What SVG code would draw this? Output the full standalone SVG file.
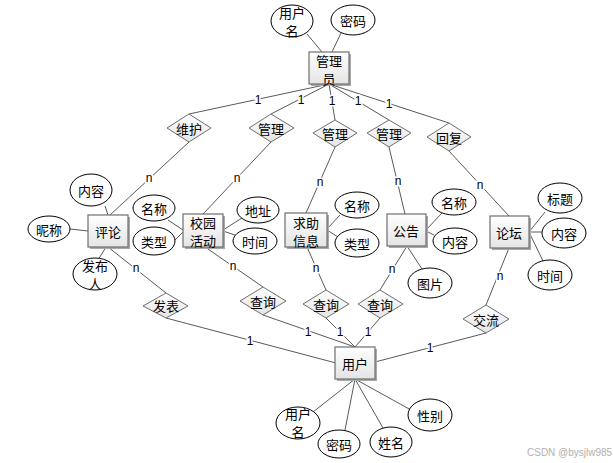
<svg xmlns="http://www.w3.org/2000/svg" width="613" height="463" viewBox="0 0 613 463">
<defs>
<linearGradient id="g" x1="0" y1="0" x2="0" y2="1">
<stop offset="0" stop-color="#ffffff"/><stop offset="1" stop-color="#e4e4e4"/>
</linearGradient>
<style>
text{font-family:"Noto Sans CJK SC","Liberation Sans",sans-serif;font-size:13px;fill:#000;text-anchor:middle;dominant-baseline:central}
.ent rect.b{fill:url(#g);stroke:#6e6e6e;stroke-width:1.2}
.ent rect.s{fill:#a8a8a8}
.rel polygon{fill:url(#g);stroke:#6e6e6e;stroke-width:1}
.att ellipse{fill:#fff;stroke:#000;stroke-width:1}
#connectors line{stroke:#5a5a5a;stroke-width:1}
.lbl{font-family:"Liberation Sans",sans-serif;font-size:12px;stroke:#fff;stroke-width:3;paint-order:stroke}
.wm{font-family:"Liberation Sans",sans-serif;font-size:10px;fill:#b0b0b0;text-anchor:start}
</style>
</defs>
<rect width="613" height="463" fill="#fff"/>
<g id="connectors">
<line x1="307" y1="34" x2="322" y2="52"/>
<line x1="341" y1="33" x2="332" y2="52"/>
<line x1="329" y1="84" x2="189" y2="114"/>
<line x1="329" y1="84" x2="271" y2="114"/>
<line x1="329" y1="84" x2="335" y2="120"/>
<line x1="329" y1="84" x2="389" y2="120"/>
<line x1="329" y1="84" x2="449" y2="123"/>
<line x1="189" y1="142" x2="110" y2="215"/>
<line x1="271" y1="142" x2="203" y2="214"/>
<line x1="335" y1="147" x2="306" y2="213"/>
<line x1="389" y1="147" x2="405" y2="214"/>
<line x1="449" y1="151" x2="509" y2="216"/>
<line x1="105" y1="206" x2="108" y2="215"/>
<line x1="70" y1="229" x2="88" y2="231"/>
<line x1="98" y1="260" x2="106" y2="247"/>
<line x1="108" y1="247" x2="166" y2="293"/>
<line x1="168" y1="220" x2="183" y2="230"/>
<line x1="173" y1="242" x2="183" y2="232"/>
<line x1="223" y1="230" x2="242" y2="218"/>
<line x1="223" y1="231" x2="235" y2="235"/>
<line x1="327" y1="229" x2="340" y2="215"/>
<line x1="327" y1="230" x2="338" y2="237"/>
<line x1="426" y1="230" x2="442" y2="213"/>
<line x1="426" y1="231" x2="434" y2="235"/>
<line x1="407" y1="246" x2="422" y2="269"/>
<line x1="529" y1="232" x2="545" y2="212"/>
<line x1="529" y1="232" x2="542" y2="232"/>
<line x1="529" y1="232" x2="543" y2="261"/>
<line x1="205" y1="247" x2="263" y2="287"/>
<line x1="307" y1="247" x2="326" y2="290"/>
<line x1="407" y1="246" x2="380" y2="290"/>
<line x1="509" y1="248" x2="486" y2="305"/>
<line x1="166" y1="318" x2="336" y2="363"/>
<line x1="263" y1="315" x2="355" y2="347"/>
<line x1="326" y1="318" x2="355" y2="347"/>
<line x1="380" y1="318" x2="355" y2="347"/>
<line x1="486" y1="333" x2="375" y2="362"/>
<line x1="355" y1="379" x2="313" y2="412"/>
<line x1="355" y1="379" x2="345" y2="430"/>
<line x1="355" y1="379" x2="383" y2="428"/>
<line x1="355" y1="379" x2="411" y2="410"/>
<text class="lbl" x="258" y="100">1</text>
<text class="lbl" x="301" y="100">1</text>
<text class="lbl" x="332" y="101">1</text>
<text class="lbl" x="358" y="101">1</text>
<text class="lbl" x="389" y="104">1</text>
<text class="lbl" x="149" y="178">n</text>
<text class="lbl" x="237" y="178">n</text>
<text class="lbl" x="320" y="182">n</text>
<text class="lbl" x="398" y="181">n</text>
<text class="lbl" x="480" y="185">n</text>
<text class="lbl" x="136" y="268">n</text>
<text class="lbl" x="233" y="266">n</text>
<text class="lbl" x="316" y="268">n</text>
<text class="lbl" x="392" y="269">n</text>
<text class="lbl" x="500" y="276">n</text>
<text class="lbl" x="250" y="341">1</text>
<text class="lbl" x="308" y="332">1</text>
<text class="lbl" x="340" y="332">1</text>
<text class="lbl" x="368" y="332">1</text>
<text class="lbl" x="430" y="348">1</text>
</g>
<g id="admin" class="ent"><rect class="s" x="311" y="54" width="40" height="32"/><rect class="b" x="309" y="52" width="40" height="32"/><text x="329" y="60">管理<tspan x="329" dy="18">员</tspan></text></g>
<g id="comment" class="ent"><rect class="s" x="90" y="217" width="40" height="32"/><rect class="b" x="88" y="215" width="40" height="32"/><text x="108" y="231">评论</text></g>
<g id="activity" class="ent"><rect class="s" x="185" y="216" width="40" height="33"/><rect class="b" x="183" y="214" width="40" height="33"/><text x="203" y="222">校园<tspan x="203" dy="18">活动</tspan></text></g>
<g id="help" class="ent"><rect class="s" x="287" y="215" width="42" height="34"/><rect class="b" x="285" y="213" width="42" height="34"/><text x="306" y="222">求助<tspan x="306" dy="18">信息</tspan></text></g>
<g id="notice" class="ent"><rect class="s" x="389" y="216" width="39" height="32"/><rect class="b" x="387" y="214" width="39" height="32"/><text x="406" y="230">公告</text></g>
<g id="forum" class="ent"><rect class="s" x="492" y="218" width="39" height="32"/><rect class="b" x="490" y="216" width="39" height="32"/><text x="509" y="232">论坛</text></g>
<g id="user" class="ent"><rect class="s" x="337" y="349" width="40" height="32"/><rect class="b" x="335" y="347" width="40" height="32"/><text x="355" y="363">用户</text></g>
<g id="r_weihu" class="rel"><polygon points="189,114 211,128 189,142 167,128"/><text x="189" y="128">维护</text></g>
<g id="r_guanli1" class="rel"><polygon points="271,114 294,128 271,142 249,128"/><text x="271" y="128">管理</text></g>
<g id="r_guanli2" class="rel"><polygon points="335,120 357,133 335,147 313,133"/><text x="335" y="133">管理</text></g>
<g id="r_guanli3" class="rel"><polygon points="389,120 411,133 389,147 367,133"/><text x="389" y="133">管理</text></g>
<g id="r_huifu" class="rel"><polygon points="449,123 471,137 449,151 427,137"/><text x="449" y="137">回复</text></g>
<g id="r_fabiao" class="rel"><polygon points="166,293 188,306 166,318 143,306"/><text x="166" y="305">发表</text></g>
<g id="r_chaxun1" class="rel"><polygon points="263,287 286,301 263,315 240,301"/><text x="263" y="301">查询</text></g>
<g id="r_chaxun2" class="rel"><polygon points="326,290 349,304 326,318 303,304"/><text x="326" y="304">查询</text></g>
<g id="r_chaxun3" class="rel"><polygon points="380,290 403,304 380,318 358,304"/><text x="380" y="304">查询</text></g>
<g id="r_jiaoliu" class="rel"><polygon points="486,305 509,319 486,333 463,319"/><text x="486" y="319">交流</text></g>
<g id="a_admin_name" class="att"><ellipse cx="292" cy="21" rx="21" ry="16"/><text x="292" y="12">用户<tspan x="292" dy="18">名</tspan></text></g>
<g id="a_admin_pwd" class="att"><ellipse cx="353" cy="20" rx="22" ry="15"/><text x="353" y="20">密码</text></g>
<g id="a_c_content" class="att"><ellipse cx="91" cy="190" rx="21" ry="16"/><text x="91" y="190">内容</text></g>
<g id="a_c_nick" class="att"><ellipse cx="49" cy="229" rx="21" ry="13"/><text x="49" y="229">昵称</text></g>
<g id="a_c_author" class="att"><ellipse cx="95" cy="274" rx="22" ry="16"/><text x="95" y="265">发布<tspan x="95" dy="18">人</tspan></text></g>
<g id="a_act_name" class="att"><ellipse cx="154" cy="208" rx="21" ry="13"/><text x="154" y="208">名称</text></g>
<g id="a_act_type" class="att"><ellipse cx="154" cy="241" rx="21" ry="14"/><text x="154" y="241">类型</text></g>
<g id="a_act_addr" class="att"><ellipse cx="258" cy="210" rx="21" ry="13"/><text x="258" y="210">地址</text></g>
<g id="a_act_time" class="att"><ellipse cx="255" cy="241" rx="22" ry="13"/><text x="255" y="241">时间</text></g>
<g id="a_help_name" class="att"><ellipse cx="357" cy="205" rx="22" ry="13"/><text x="357" y="205">名称</text></g>
<g id="a_help_type" class="att"><ellipse cx="357" cy="243" rx="22" ry="14"/><text x="357" y="243">类型</text></g>
<g id="a_n_name" class="att"><ellipse cx="454" cy="202" rx="22" ry="13"/><text x="454" y="202">名称</text></g>
<g id="a_n_content" class="att"><ellipse cx="455" cy="241" rx="22" ry="13"/><text x="455" y="241">内容</text></g>
<g id="a_n_pic" class="att"><ellipse cx="430" cy="283" rx="22" ry="15"/><text x="430" y="283">图片</text></g>
<g id="a_f_title" class="att"><ellipse cx="560" cy="198" rx="22" ry="15"/><text x="560" y="198">标题</text></g>
<g id="a_f_content" class="att"><ellipse cx="564" cy="233" rx="22" ry="15"/><text x="564" y="233">内容</text></g>
<g id="a_f_time" class="att"><ellipse cx="550" cy="275" rx="22" ry="15"/><text x="550" y="275">时间</text></g>
<g id="a_u_name" class="att"><ellipse cx="298" cy="423" rx="22" ry="16"/><text x="298" y="413">用户<tspan x="298" dy="18">名</tspan></text></g>
<g id="a_u_pwd" class="att"><ellipse cx="339" cy="444" rx="21" ry="14"/><text x="339" y="444">密码</text></g>
<g id="a_u_realname" class="att"><ellipse cx="391" cy="442" rx="21" ry="15"/><text x="391" y="442">姓名</text></g>
<g id="a_u_gender" class="att"><ellipse cx="430" cy="415" rx="22" ry="16"/><text x="430" y="415">性别</text></g>
<text class="wm" x="527" y="452">CSDN @bysjlw985</text>
</svg>
